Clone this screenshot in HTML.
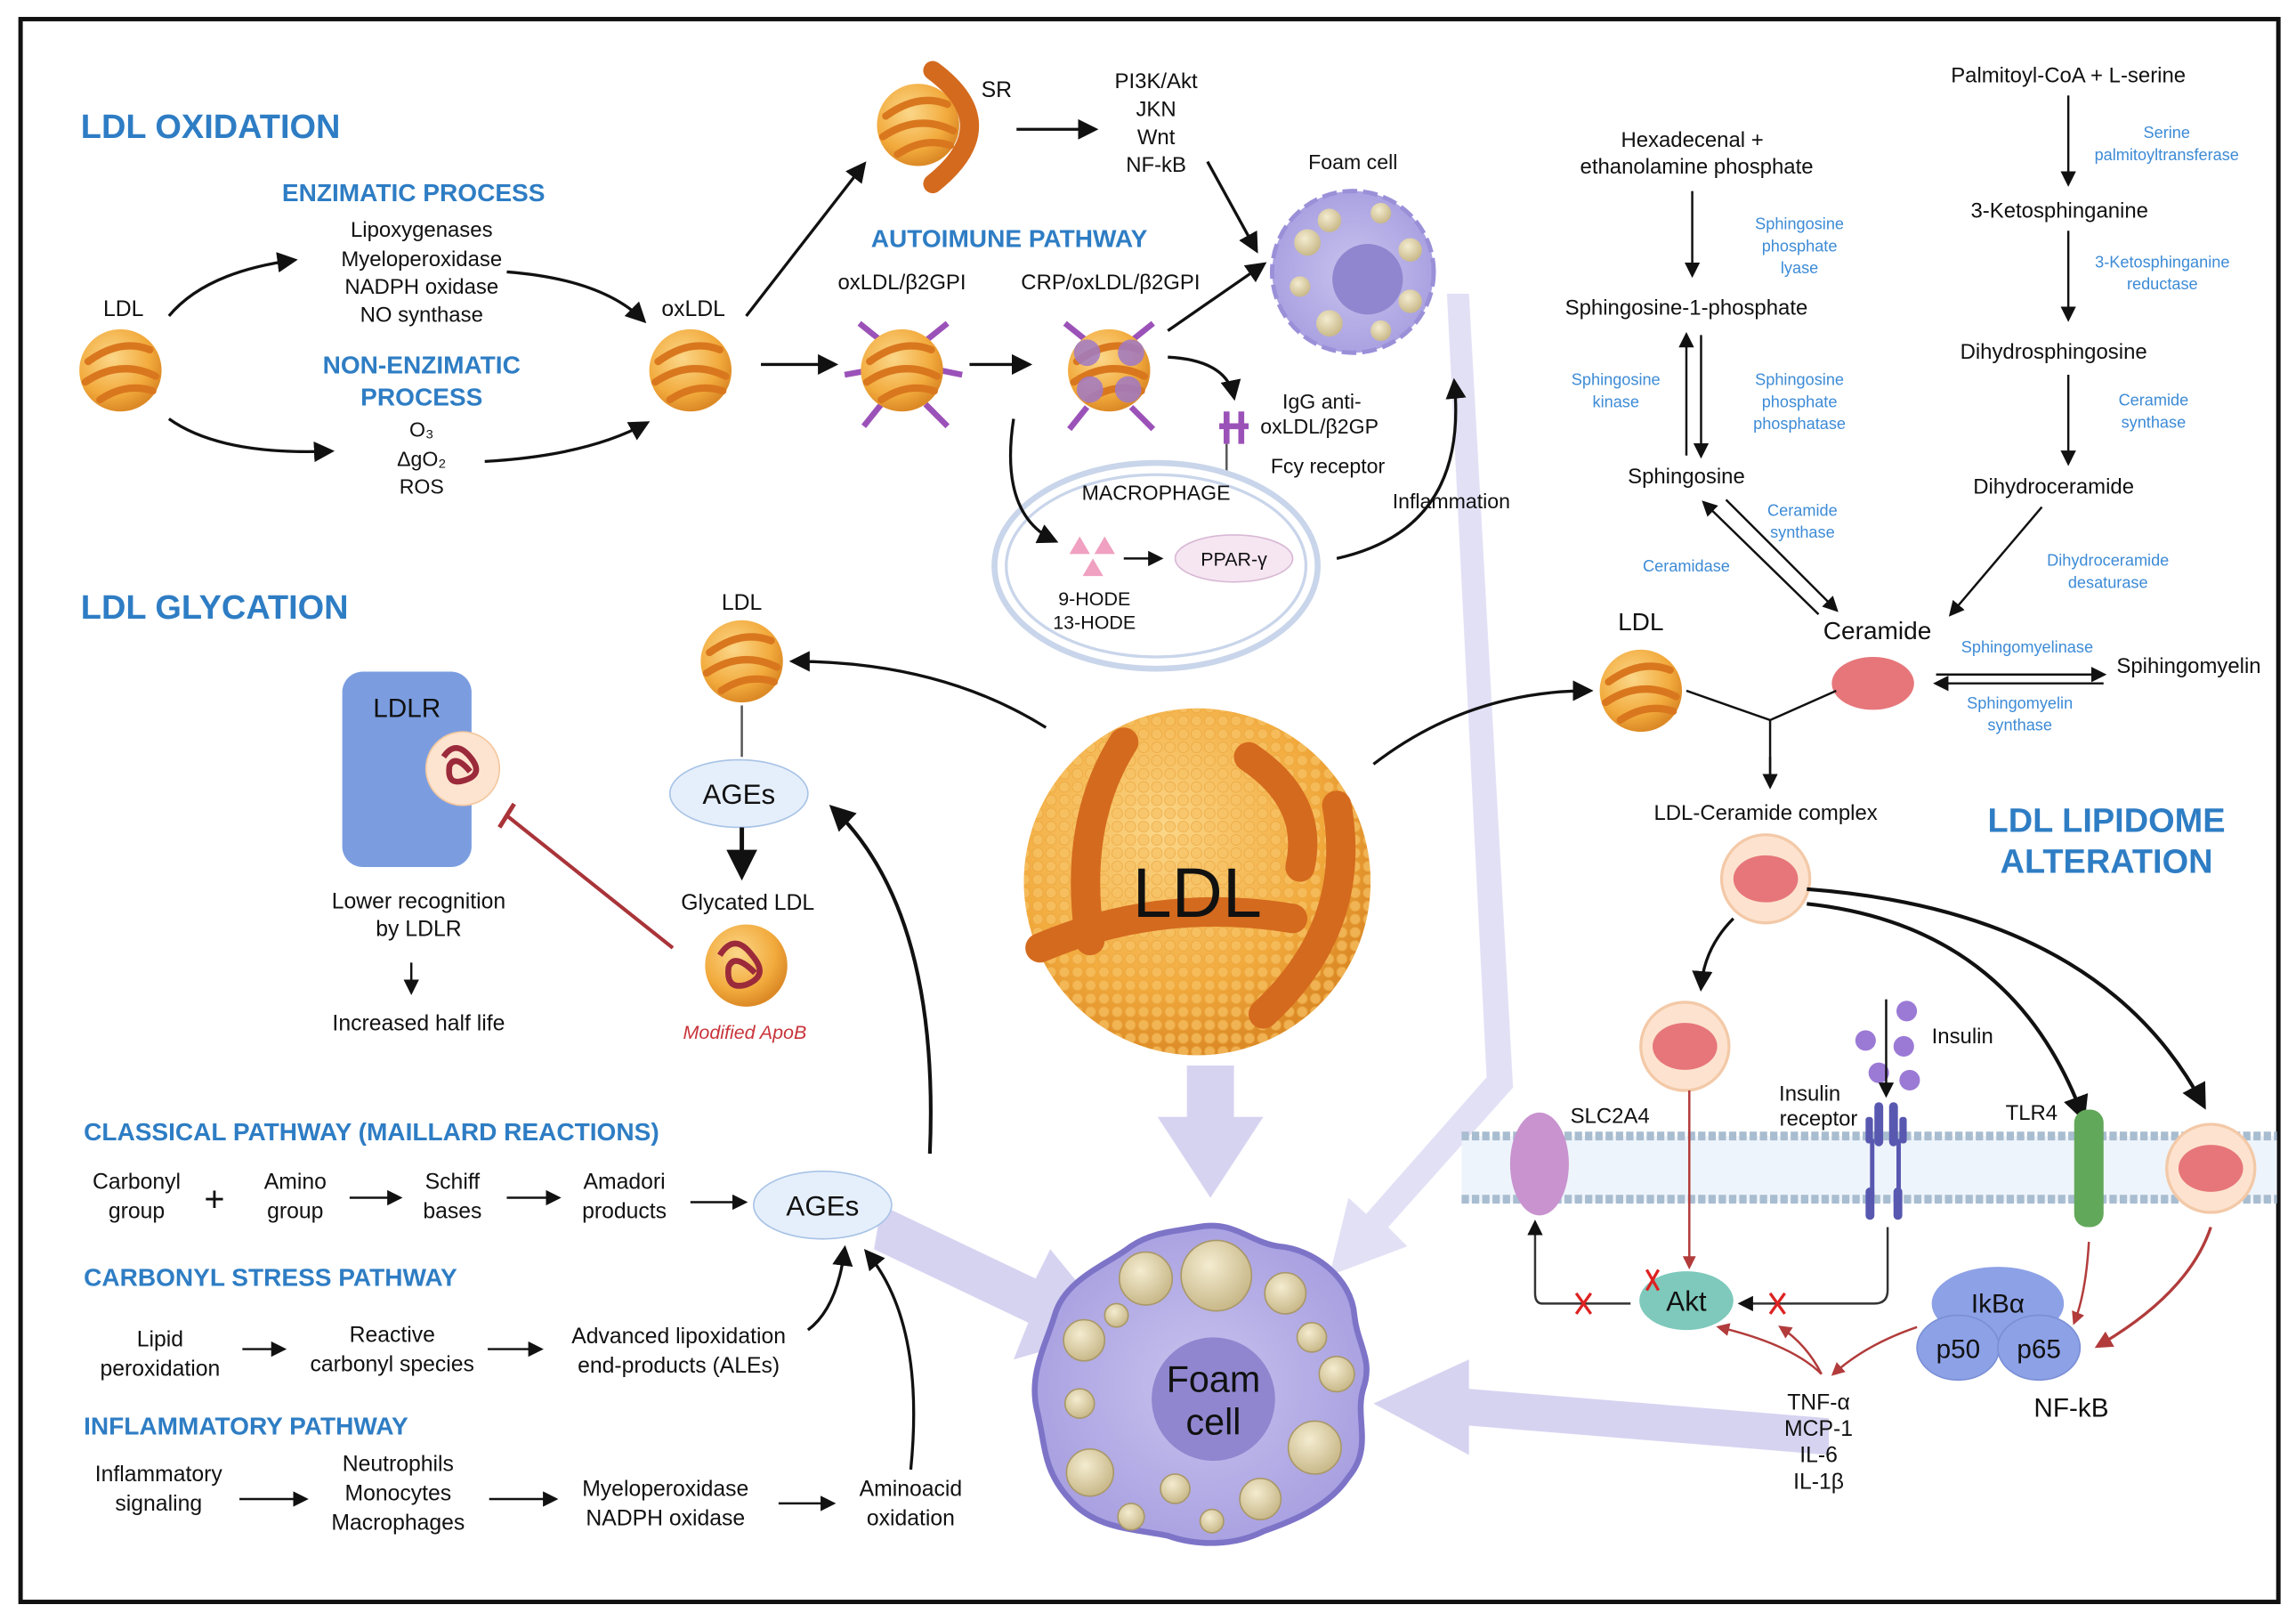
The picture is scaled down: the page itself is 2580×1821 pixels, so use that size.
<!DOCTYPE html>
<html><head><meta charset="utf-8"><style>
html,body{margin:0;padding:0;background:#fff}
svg{display:block}
text{font-family:"Liberation Sans",sans-serif;fill:#111}
.t{font-weight:bold;fill:#2e7dc4}
.b{fill:#3d8bd6;font-size:11px}
</style></head><body>
<svg width="2580" height="1821" viewBox="0 0 1563 1103" preserveAspectRatio="none" xmlns="http://www.w3.org/2000/svg">
<defs>
<radialGradient id="og" cx="40%" cy="35%" r="65%"><stop offset="0" stop-color="#fbd789"/><stop offset="0.7" stop-color="#f2aa3c"/><stop offset="1" stop-color="#dc8a26"/></radialGradient>
<radialGradient id="fg" cx="50%" cy="50%" r="55%"><stop offset="0" stop-color="#c8c2ee"/><stop offset="1" stop-color="#a79fe0"/></radialGradient>
<radialGradient id="vg" cx="40%" cy="35%" r="65%"><stop offset="0" stop-color="#f4ecd0"/><stop offset="1" stop-color="#c9b98a"/></radialGradient>
<pattern id="dots" width="9" height="9" patternUnits="userSpaceOnUse"><circle cx="4.5" cy="4.5" r="3.6" fill="#f7c265" stroke="#eaa43c" stroke-width="0.6"/></pattern>
<marker id="a" viewBox="0 0 10 10" refX="8" refY="5" markerWidth="7" markerHeight="7" orient="auto"><path d="M0,0L10,5L0,10z" fill="#111"/></marker>
<marker id="r" viewBox="0 0 10 10" refX="8" refY="5" markerWidth="6" markerHeight="6" orient="auto"><path d="M0,0L10,5L0,10z" fill="#b23b3b"/></marker>
<g id="ball"><circle r="28" fill="url(#og)"/><path d="M-22,-6 Q0,-22 20,-14 M-24,8 Q0,-8 24,4 M-14,20 Q4,8 22,14" stroke="#d9771e" stroke-width="5" fill="none" stroke-linecap="round"/></g>
<g id="ves"><circle r="30" fill="#fde3cf" stroke="#f3c9a8" stroke-width="2"/><ellipse rx="22" ry="16" fill="#e6767a"/></g>
</defs>
<rect x="14" y="13" width="1537" height="1077" fill="#fff" stroke="#111" stroke-width="3"/>

<!-- big translucent arrows -->
<g fill="#c9c4ec" opacity="0.75">
<path d="M600,820 L705,870 L715,850 L760,905 L690,925 L700,900 L595,850z"/>
<path d="M808,725 L840,725 L840,760 L860,760 L824,815 L788,760 L808,760z"/>
<path d="M1245,965 L1000,945 L1000,925 L935,955 L1000,990 L1000,970 L1245,990z"/>
<path d="M985,200 L1000,200 L1030,740 L945,835 L958,848 L905,868 L918,815 L930,826 L1012,733z" opacity="0.7"/>
</g>

<!-- LDL OXIDATION -->
<text x="55" y="94" class="t" font-size="23">LDL OXIDATION</text>
<text x="192" y="137" class="t" font-size="17">ENZIMATIC PROCESS</text>
<g font-size="14.5" text-anchor="middle">
<text x="287" y="161">Lipoxygenases</text>
<text x="287" y="181">Myeloperoxidase</text>
<text x="287" y="200">NADPH oxidase</text>
<text x="287" y="219">NO synthase</text>
</g>
<text x="287" y="254" class="t" font-size="17" text-anchor="middle">NON-ENZIMATIC</text>
<text x="287" y="276" class="t" font-size="17" text-anchor="middle">PROCESS</text>
<text x="287" y="297" font-size="14" text-anchor="middle">O₃</text>
<text x="287" y="317" font-size="14" text-anchor="middle">ΔgO₂</text>
<text x="287" y="336" font-size="14" text-anchor="middle">ROS</text>
<text x="84" y="215" font-size="15" text-anchor="middle">LDL</text>
<use href="#ball" x="82" y="252"/>
<path d="M115,215 Q140,185 200,177" stroke="#111" stroke-width="2" fill="none" marker-end="url(#a)"/>
<path d="M115,285 Q150,310 225,307" stroke="#111" stroke-width="2" fill="none" marker-end="url(#a)"/>
<path d="M345,185 Q410,190 438,218" stroke="#111" stroke-width="2" fill="none" marker-end="url(#a)"/>
<path d="M330,314 Q400,310 440,288" stroke="#111" stroke-width="2" fill="none" marker-end="url(#a)"/>
<text x="472" y="215" font-size="15" text-anchor="middle">oxLDL</text>
<use href="#ball" x="470" y="252"/>
<path d="M508,215 L588,112" stroke="#111" stroke-width="2" fill="none" marker-end="url(#a)"/>
<path d="M518,248 L568,248" stroke="#111" stroke-width="2" marker-end="url(#a)"/>
<use href="#ball" x="625" y="85"/>
<path d="M635,48 Q685,85 635,125" stroke="#d46a1e" stroke-width="13" fill="none" stroke-linecap="round"/>
<text x="668" y="66" font-size="15">SR</text>
<path d="M692,88 L745,88" stroke="#111" stroke-width="2" marker-end="url(#a)"/>
<g font-size="14.5" text-anchor="middle">
<text x="787" y="60">PI3K/Akt</text>
<text x="787" y="79">JKN</text>
<text x="787" y="98">Wnt</text>
<text x="787" y="117">NF-kB</text>
</g>
<path d="M822,110 L855,170" stroke="#111" stroke-width="2" marker-end="url(#a)"/>
<text x="687" y="168" class="t" font-size="17" text-anchor="middle">AUTOIMUNE PATHWAY</text>
<text x="614" y="197" font-size="14.5" text-anchor="middle">oxLDL/β2GPI</text>
<text x="756" y="197" font-size="14.5" text-anchor="middle">CRP/oxLDL/β2GPI</text>
<g stroke="#9b52b8" stroke-width="4" fill="none">
<path d="M585,220 L600,232 M645,220 L630,232 M588,290 L600,275 M645,290 L630,275 M575,255 L592,252 M655,255 L640,252"/>
<path d="M725,220 L740,232 M785,220 L770,232 M728,292 L740,277 M785,292 L770,277"/>
<path d="M835,280 L835,302 M845,280 L845,302 M830,290 L850,290"/>
</g>
<use href="#ball" x="614" y="252"/>
<use href="#ball" x="755" y="252"/>
<g fill="#a07ac6" opacity="0.85"><circle cx="740" cy="240" r="9"/><circle cx="770" cy="240" r="9"/><circle cx="742" cy="265" r="9"/><circle cx="768" cy="265" r="9"/></g>
<path d="M660,248 L700,248" stroke="#111" stroke-width="2" marker-end="url(#a)"/>
<path d="M795,225 L860,180" stroke="#111" stroke-width="2" marker-end="url(#a)"/>
<path d="M795,243 Q835,245 840,270" stroke="#111" stroke-width="2" fill="none" marker-end="url(#a)"/>
<text x="873" y="278" font-size="14">IgG anti-</text>
<text x="858" y="295" font-size="14">oxLDL/β2GP</text>
<text x="865" y="322" font-size="14">Fcy receptor</text>
<path d="M835,302 L835,335" stroke="#555" stroke-width="1.5"/>
<!-- small foam cell -->
<text x="921" y="115" font-size="14" text-anchor="middle">Foam cell</text>
<circle cx="921" cy="185" r="55" fill="url(#fg)" stroke="#9a90d8" stroke-width="3" stroke-dasharray="10 4"/>
<circle cx="931" cy="190" r="24" fill="#8f86cf"/>
<g fill="url(#vg)"><circle cx="890" cy="165" r="9"/><circle cx="905" cy="150" r="8"/><circle cx="940" cy="145" r="7"/><circle cx="960" cy="170" r="8"/><circle cx="960" cy="205" r="8"/><circle cx="940" cy="225" r="7"/><circle cx="905" cy="220" r="9"/><circle cx="885" cy="195" r="7"/></g>
<!-- macrophage -->
<ellipse cx="787" cy="385" rx="110" ry="70" fill="#fff" stroke="#c9d5ea" stroke-width="4"/>
<ellipse cx="787" cy="385" rx="102" ry="62" fill="none" stroke="#c9d5ea" stroke-width="2"/>
<text x="787" y="340" font-size="14" text-anchor="middle">MACROPHAGE</text>
<path d="M690,285 Q680,350 718,368" stroke="#111" stroke-width="2" fill="none" marker-end="url(#a)"/>
<g fill="#f0a0c0"><path d="M735,365 L742,377 L728,377z"/><path d="M752,365 L759,377 L745,377z"/><path d="M744,380 L751,392 L737,392z"/></g>
<path d="M765,380 L790,380" stroke="#111" stroke-width="1.5" marker-end="url(#a)"/>
<ellipse cx="840" cy="380" rx="40" ry="16" fill="#f5e6f2" stroke="#d8b8d4"/>
<text x="840" y="385" font-size="13" text-anchor="middle">PPAR-γ</text>
<text x="745" y="412" font-size="13" text-anchor="middle">9-HODE</text>
<text x="745" y="428" font-size="13" text-anchor="middle">13-HODE</text>
<path d="M910,380 Q1000,360 990,260" stroke="#111" stroke-width="2" fill="none" marker-end="url(#a)"/>
<text x="988" y="346" font-size="14" text-anchor="middle">Inflammation</text>

<!-- LDL GLYCATION -->
<text x="55" y="421" class="t" font-size="23">LDL GLYCATION</text>
<rect x="233" y="457" width="88" height="133" rx="14" fill="#7b9de0"/>
<text x="277" y="488" font-size="18" text-anchor="middle">LDLR</text>
<circle cx="315" cy="523" r="25" fill="#fde4d0" stroke="#f4c8a0"/>
<path d="M302,515 q8,-12 18,0 q10,12 -4,16 q-12,4 -10,-10 q4,-8 14,4" stroke="#9b2a3a" stroke-width="4" fill="none"/>
<text x="285" y="618" font-size="15" text-anchor="middle">Lower recognition</text>
<text x="285" y="637" font-size="15" text-anchor="middle">by LDLR</text>
<path d="M280,655 L280,675" stroke="#111" stroke-width="1.5" marker-end="url(#a)"/>
<text x="285" y="701" font-size="15" text-anchor="middle">Increased half life</text>
<path d="M458,645 L345,555" stroke="#a93439" stroke-width="2.5"/>
<path d="M340,563 L350,547" stroke="#a93439" stroke-width="3"/>
<text x="505" y="415" font-size="15" text-anchor="middle">LDL</text>
<use href="#ball" x="505" y="450"/>
<path d="M505,480 L505,515" stroke="#555" stroke-width="1.5"/>
<ellipse cx="503" cy="540" rx="47" ry="23" fill="#e5effb" stroke="#a8c3e6"/>
<text x="503" y="547" font-size="19" text-anchor="middle">AGEs</text>
<path d="M505,563 L505,595" stroke="#111" stroke-width="3" marker-end="url(#a)"/>
<text x="509" y="619" font-size="15" text-anchor="middle">Glycated LDL</text>
<circle cx="508" cy="657" r="28" fill="url(#og)"/>
<path d="M490,650 q10,-16 22,0 q12,14 -4,20 q-14,4 -12,-12 q4,-10 18,4" stroke="#9b2a3a" stroke-width="4" fill="none"/>
<text x="507" y="707" font-size="13" font-style="italic" style="fill:#c8343a" text-anchor="middle">Modified ApoB</text>
<path d="M712,495 Q640,450 540,450" stroke="#111" stroke-width="2" fill="none" marker-end="url(#a)"/>
<path d="M633,785 Q640,620 567,550" stroke="#111" stroke-width="2.5" fill="none" marker-end="url(#a)"/>

<!-- Big LDL -->
<circle cx="815" cy="600" r="118" fill="url(#og)"/>
<circle cx="815" cy="600" r="118" fill="url(#dots)" opacity="0.7"/>
<g stroke="#d46a1e" stroke-width="20" fill="none" stroke-linecap="round">
<path d="M765,505 Q730,560 742,640"/>
<path d="M850,515 Q895,545 885,590"/>
<path d="M708,645 Q790,610 880,625"/>
<path d="M910,548 Q925,630 860,690"/>
</g>
<text x="815" y="624" font-size="48" text-anchor="middle">LDL</text>

<!-- AGE pathways -->
<text x="57" y="776" class="t" font-size="17">CLASSICAL PATHWAY (MAILLARD REACTIONS)</text>
<g font-size="15" text-anchor="middle">
<text x="93" y="809">Carbonyl</text><text x="93" y="829">group</text>
<text x="146" y="824" font-size="24">+</text>
<text x="201" y="809">Amino</text><text x="201" y="829">group</text>
<text x="308" y="809">Schiff</text><text x="308" y="829">bases</text>
<text x="425" y="809">Amadori</text><text x="425" y="829">products</text>
<text x="109" y="916">Lipid</text><text x="109" y="936">peroxidation</text>
<text x="267" y="913">Reactive</text><text x="267" y="933">carbonyl species</text>
<text x="462" y="914">Advanced lipoxidation</text><text x="462" y="934">end-products (ALEs)</text>
<text x="108" y="1008">Inflammatory</text><text x="108" y="1028">signaling</text>
<text x="271" y="1001">Neutrophils</text><text x="271" y="1021">Monocytes</text><text x="271" y="1041">Macrophages</text>
<text x="453" y="1018">Myeloperoxidase</text><text x="453" y="1038">NADPH oxidase</text>
<text x="620" y="1018">Aminoacid</text><text x="620" y="1038">oxidation</text>
</g>
<g stroke="#111" stroke-width="1.5" marker-end="url(#a)">
<path d="M238,815 L272,815"/><path d="M345,815 L380,815"/><path d="M470,818 L507,818"/>
<path d="M165,918 L193,918"/><path d="M332,918 L368,918"/>
<path d="M163,1020 L208,1020"/><path d="M333,1020 L378,1020"/><path d="M530,1023 L567,1023"/>
</g>
<ellipse cx="560" cy="820" rx="47" ry="23" fill="#e5effb" stroke="#a8c3e6"/>
<text x="560" y="827" font-size="19" text-anchor="middle">AGEs</text>
<path d="M550,905 Q570,890 575,850" stroke="#111" stroke-width="2" fill="none" marker-end="url(#a)"/>
<path d="M620,1000 Q630,900 590,852" stroke="#111" stroke-width="2" fill="none" marker-end="url(#a)"/>
<text x="57" y="875" class="t" font-size="17">CARBONYL STRESS PATHWAY</text>
<text x="57" y="976" class="t" font-size="17">INFLAMMATORY PATHWAY</text>

<!-- big foam cell -->
<path d="M815,835 C840,830 850,845 870,848 C895,850 920,870 922,895 C924,915 935,925 928,945 C922,965 935,985 918,1005 C905,1025 880,1035 860,1042 C840,1052 815,1052 795,1045 C770,1040 745,1040 728,1020 C710,1000 712,985 706,960 C700,935 712,915 718,895 C725,870 755,860 770,848 C785,838 800,838 815,835z" fill="url(#fg)" stroke="#7d74c8" stroke-width="4"/>
<circle cx="826" cy="952" r="42" fill="#8f86cf"/>
<text x="826" y="947" font-size="25" text-anchor="middle">Foam</text>
<text x="826" y="976" font-size="25" text-anchor="middle">cell</text>
<g fill="url(#vg)" stroke="#a99868" stroke-width="1">
<circle cx="780" cy="870" r="18"/><circle cx="828" cy="868" r="24"/><circle cx="875" cy="880" r="14"/><circle cx="893" cy="910" r="10"/><circle cx="910" cy="935" r="12"/><circle cx="895" cy="985" r="18"/><circle cx="858" cy="1020" r="14"/><circle cx="800" cy="1013" r="10"/><circle cx="770" cy="1032" r="9"/><circle cx="742" cy="1002" r="16"/><circle cx="735" cy="955" r="10"/><circle cx="738" cy="912" r="14"/><circle cx="760" cy="895" r="8"/><circle cx="825" cy="1035" r="8"/></g>

<!-- LDL LIPIDOME -->
<text x="1408" y="56" font-size="14.5" text-anchor="middle">Palmitoyl-CoA + L-serine</text>
<path d="M1408,65 L1408,125" stroke="#111" stroke-width="1.5" marker-end="url(#a)"/>
<text x="1475" y="94" class="b" text-anchor="middle">Serine</text>
<text x="1475" y="109" class="b" text-anchor="middle">palmitoyltransferase</text>
<text x="1402" y="148" font-size="14.5" text-anchor="middle">3-Ketosphinganine</text>
<path d="M1408,157 L1408,217" stroke="#111" stroke-width="1.5" marker-end="url(#a)"/>
<text x="1472" y="182" class="b" text-anchor="middle">3-Ketosphinganine</text>
<text x="1472" y="197" class="b" text-anchor="middle">reductase</text>
<text x="1398" y="244" font-size="14.5" text-anchor="middle">Dihydrosphingosine</text>
<text x="1466" y="276" class="b" text-anchor="middle">Ceramide</text>
<text x="1466" y="291" class="b" text-anchor="middle">synthase</text>
<path d="M1408,255 L1408,315" stroke="#111" stroke-width="1.5" marker-end="url(#a)"/>
<text x="1398" y="336" font-size="14.5" text-anchor="middle">Dihydroceramide</text>
<path d="M1390,345 L1328,418" stroke="#111" stroke-width="1.5" marker-end="url(#a)"/>
<text x="1435" y="385" class="b" text-anchor="middle">Dihydroceramide</text>
<text x="1435" y="400" class="b" text-anchor="middle">desaturase</text>
<text x="1152" y="100" font-size="14.5" text-anchor="middle">Hexadecenal +</text>
<text x="1155" y="118" font-size="14.5" text-anchor="middle">ethanolamine phosphate</text>
<path d="M1152,130 L1152,187" stroke="#111" stroke-width="1.5" marker-end="url(#a)"/>
<text x="1225" y="156" class="b" text-anchor="middle">Sphingosine</text>
<text x="1225" y="171" class="b" text-anchor="middle">phosphate</text>
<text x="1225" y="186" class="b" text-anchor="middle">lyase</text>
<text x="1148" y="214" font-size="14.5" text-anchor="middle">Sphingosine-1-phosphate</text>
<path d="M1148,310 L1148,228" stroke="#111" stroke-width="1.5" marker-end="url(#a)"/>
<path d="M1158,228 L1158,310" stroke="#111" stroke-width="1.5" marker-end="url(#a)"/>
<text x="1100" y="262" class="b" text-anchor="middle">Sphingosine</text>
<text x="1100" y="277" class="b" text-anchor="middle">kinase</text>
<text x="1225" y="262" class="b" text-anchor="middle">Sphingosine</text>
<text x="1225" y="277" class="b" text-anchor="middle">phosphate</text>
<text x="1225" y="292" class="b" text-anchor="middle">phosphatase</text>
<text x="1148" y="329" font-size="14.5" text-anchor="middle">Sphingosine</text>
<path d="M1238,418 L1160,342" stroke="#111" stroke-width="1.5" marker-end="url(#a)"/>
<path d="M1175,340 L1250,415" stroke="#111" stroke-width="1.5" marker-end="url(#a)"/>
<text x="1148" y="389" class="b" text-anchor="middle">Ceramidase</text>
<text x="1227" y="351" class="b" text-anchor="middle">Ceramide</text>
<text x="1227" y="366" class="b" text-anchor="middle">synthase</text>
<text x="1278" y="435" font-size="17" text-anchor="middle">Ceramide</text>
<ellipse cx="1275" cy="465" rx="28" ry="18" fill="#e6767a"/>
<path d="M1318,459 L1432,459" stroke="#111" stroke-width="1.5" marker-end="url(#a)"/>
<path d="M1432,465 L1318,465" stroke="#111" stroke-width="1.5" marker-end="url(#a)"/>
<text x="1380" y="444" class="b" text-anchor="middle">Sphingomyelinase</text>
<text x="1375" y="482" class="b" text-anchor="middle">Sphingomyelin</text>
<text x="1375" y="497" class="b" text-anchor="middle">synthase</text>
<text x="1490" y="458" font-size="14.5" text-anchor="middle">Spihingomyelin</text>
<text x="1117" y="429" font-size="17" text-anchor="middle">LDL</text>
<use href="#ball" x="1117" y="470"/>
<path d="M935,520 Q1000,470 1082,470" stroke="#111" stroke-width="2" fill="none" marker-end="url(#a)"/>
<path d="M1148,470 L1205,490 L1250,470 M1205,490 L1205,535" stroke="#111" stroke-width="1.5" fill="none"/>
<path d="M1205,515 L1205,535" stroke="#111" stroke-width="1.5" marker-end="url(#a)"/>
<text x="1202" y="558" font-size="14.5" text-anchor="middle">LDL-Ceramide complex</text>
<text x="1434" y="566" class="t" font-size="23" text-anchor="middle">LDL LIPIDOME</text>
<text x="1434" y="594" class="t" font-size="23" text-anchor="middle">ALTERATION</text>
<use href="#ves" x="1202" y="598"/>
<path d="M1180,625 Q1160,645 1158,672" stroke="#111" stroke-width="2" fill="none" marker-end="url(#a)"/>
<path d="M1230,615 Q1370,630 1418,760" stroke="#111" stroke-width="2.5" fill="none" marker-end="url(#a)"/>
<path d="M1230,605 Q1430,620 1500,752" stroke="#111" stroke-width="2.5" fill="none" marker-end="url(#a)"/>
<use href="#ves" x="1147" y="712"/>
<!-- membrane -->
<rect x="995" y="773" width="555" height="45" fill="#eef4fb"/>
<line x1="995" y1="773" x2="1550" y2="773" stroke="#a9bdd0" stroke-width="6" stroke-dasharray="5 2"/>
<line x1="995" y1="816" x2="1550" y2="816" stroke="#a9bdd0" stroke-width="6" stroke-dasharray="5 2"/>
<ellipse cx="1048" cy="792" rx="20" ry="35" fill="#c893cf"/>
<text x="1096" y="764" font-size="14.5" text-anchor="middle">SLC2A4</text>
<rect x="1412" y="755" width="20" height="80" rx="9" fill="#62a85a"/>
<text x="1383" y="762" font-size="14.5" text-anchor="middle">TLR4</text>
<use href="#ves" x="1505" y="795"/>
<g fill="#5858b0"><rect x="1276" y="750" width="6" height="30" rx="3"/><rect x="1286" y="750" width="6" height="30" rx="3"/><rect x="1270" y="760" width="5" height="18" rx="2"/><rect x="1293" y="760" width="5" height="18" rx="2"/><rect x="1273" y="775" width="3" height="40"/><rect x="1291" y="775" width="3" height="40"/><rect x="1270" y="808" width="6" height="22" rx="3"/><rect x="1289" y="808" width="6" height="22" rx="3"/></g>
<text x="1232" y="749" font-size="14.5" text-anchor="middle">Insulin</text>
<text x="1238" y="766" font-size="14.5" text-anchor="middle">receptor</text>
<g fill="#9b7ad6"><circle cx="1270" cy="708" r="7"/><circle cx="1298" cy="688" r="7"/><circle cx="1296" cy="712" r="7"/><circle cx="1300" cy="735" r="7"/><circle cx="1279" cy="730" r="7"/></g>
<text x="1315" y="710" font-size="14.5">Insulin</text>
<path d="M1284,680 L1284,745" stroke="#111" stroke-width="1.5" marker-end="url(#a)"/>
<ellipse cx="1148" cy="885" rx="32" ry="20" fill="#7ec9bc"/>
<text x="1148" y="892" font-size="19" text-anchor="middle">Akt</text>
<path d="M1150,742 L1150,862" stroke="#b23b3b" stroke-width="1.5" marker-end="url(#r)"/>
<path d="M1285,835 L1285,878 Q1285,887 1276,887 L1185,887" stroke="#333" stroke-width="1.5" fill="none" marker-end="url(#a)"/>
<path d="M1110,887 L1050,887 Q1045,887 1045,880 L1045,832" stroke="#333" stroke-width="1.5" fill="none" marker-end="url(#a)"/>
<g stroke="#d22" stroke-width="2"><path d="M1073,880 l10,14 M1083,880 l-10,14"/><path d="M1205,880 l10,14 M1215,880 l-10,14"/><path d="M1121,864 l8,14 M1129,864 l-8,14"/></g>
<ellipse cx="1360" cy="887" rx="45" ry="25" fill="#8da1e6"/>
<ellipse cx="1333" cy="917" rx="28" ry="22" fill="#8da1e6" stroke="#7b8fd6"/>
<ellipse cx="1388" cy="917" rx="28" ry="22" fill="#8da1e6" stroke="#7b8fd6"/>
<text x="1360" y="893" font-size="18" text-anchor="middle">IkBα</text>
<text x="1333" y="924" font-size="18" text-anchor="middle">p50</text>
<text x="1388" y="924" font-size="18" text-anchor="middle">p65</text>
<text x="1410" y="964" font-size="18" text-anchor="middle">NF-kB</text>
<path d="M1422,845 Q1420,880 1412,900" stroke="#b23b3b" stroke-width="1.5" fill="none" marker-end="url(#r)"/>
<path d="M1505,835 Q1490,880 1428,916" stroke="#b23b3b" stroke-width="2" fill="none" marker-end="url(#r)"/>
<path d="M1305,903 Q1270,915 1248,935" stroke="#b23b3b" stroke-width="1.5" fill="none" marker-end="url(#r)"/>
<path d="M1240,935 Q1220,915 1170,903" stroke="#b23b3b" stroke-width="1.5" fill="none" marker-end="url(#r)"/>
<path d="M1240,935 Q1230,915 1212,903" stroke="#b23b3b" stroke-width="1.5" fill="none" marker-end="url(#r)"/>
<g font-size="15" text-anchor="middle"><text x="1238" y="959">TNF-α</text><text x="1238" y="977">MCP-1</text><text x="1238" y="995">IL-6</text><text x="1238" y="1013">IL-1β</text></g>
</svg>
</body></html>
